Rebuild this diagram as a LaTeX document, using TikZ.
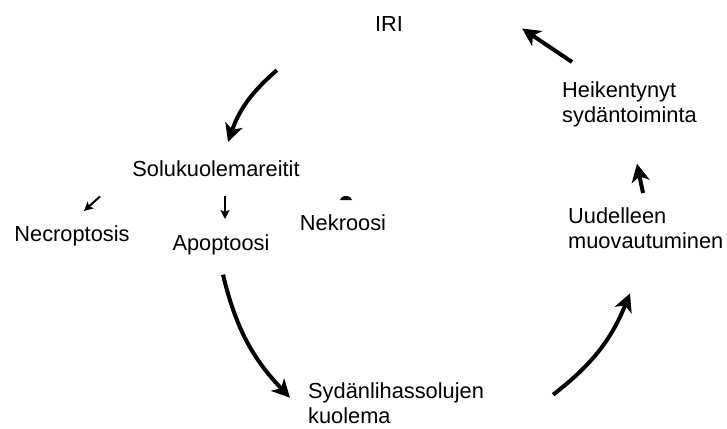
\documentclass[tikz,border=0pt]{standalone}
\usepackage{fontspec}
\setmainfont{Liberation Sans}
\usetikzlibrary{arrows.meta,calc}
\begin{document}
\begin{tikzpicture}[x=1pt,y=-1pt,
		lbl/.style={inner sep=0pt,font=\fontsize{21.8}{25}\selectfont},
		bigarrow/.style={line width=4pt,-{Stealth[length=18pt,width=18pt,inset=5pt]}},
		smallarrow/.style={line width=2pt,-{Stealth[length=9pt,width=9pt,inset=2pt]}}]
		\useasboundingbox (0,0) rectangle (727,428);
		\node[lbl,anchor=base] (iri) at (389,32) {IRI};
		\node[lbl,anchor=base] (reitit) at (216,176) {Solukuolemareitit};
		\node[lbl,anchor=base] (necro) at (72,241) {Necroptosis};
		\node[lbl,anchor=base] (apo) at (221,250) {Apoptoosi};
		\node[lbl,anchor=base] (nekro) at (343,230) {Nekroosi};
		\node[lbl,anchor=north west,align=left] (heik) at (562,82) {Heikentynyt\\sydäntoiminta};
		\node[lbl,anchor=north west,align=left] (uud) at (568,208) {Uudelleen\\muovautuminen};
		\node[lbl,anchor=north west,align=left] (kuol) at (308,382) {Sydänlihassolujen\\kuolema};
		% the cycle
		\draw[bigarrow] ($(iri.south west)+(-98,38)$) to[bend right=15] ($(reitit.north)+(12,-18)$);
		\draw[bigarrow] ($(apo.south)+(2,20)$) to[bend right=15] ($(kuol.west)+(-18,-5)$);
		\draw[bigarrow] ($(kuol.east)+(69,-8)$) to[bend right=15] ($(uud.south west)+(62,44)$);
		\draw[bigarrow] ($(uud.north west)+(75,-15)$) -- ($(heik.south west)+(75,36)$);
		\draw[bigarrow] ($(heik.north west)+(10,-20)$) -- ($(iri.east)+(119,4)$);
		% the three cell death routes
		\draw[smallarrow] ($(reitit.south)+(-116,20)$) -- ($(necro.north)+(12,-14)$);
		\draw[smallarrow] ($(reitit.south)+(9,20)$) -- ($(apo.north)+(4,-15)$);
		\fill ($(nekro.north)+(-3,-14)$) arc (180:360:6 and 4) -- cycle;
\end{tikzpicture}
\end{document}
